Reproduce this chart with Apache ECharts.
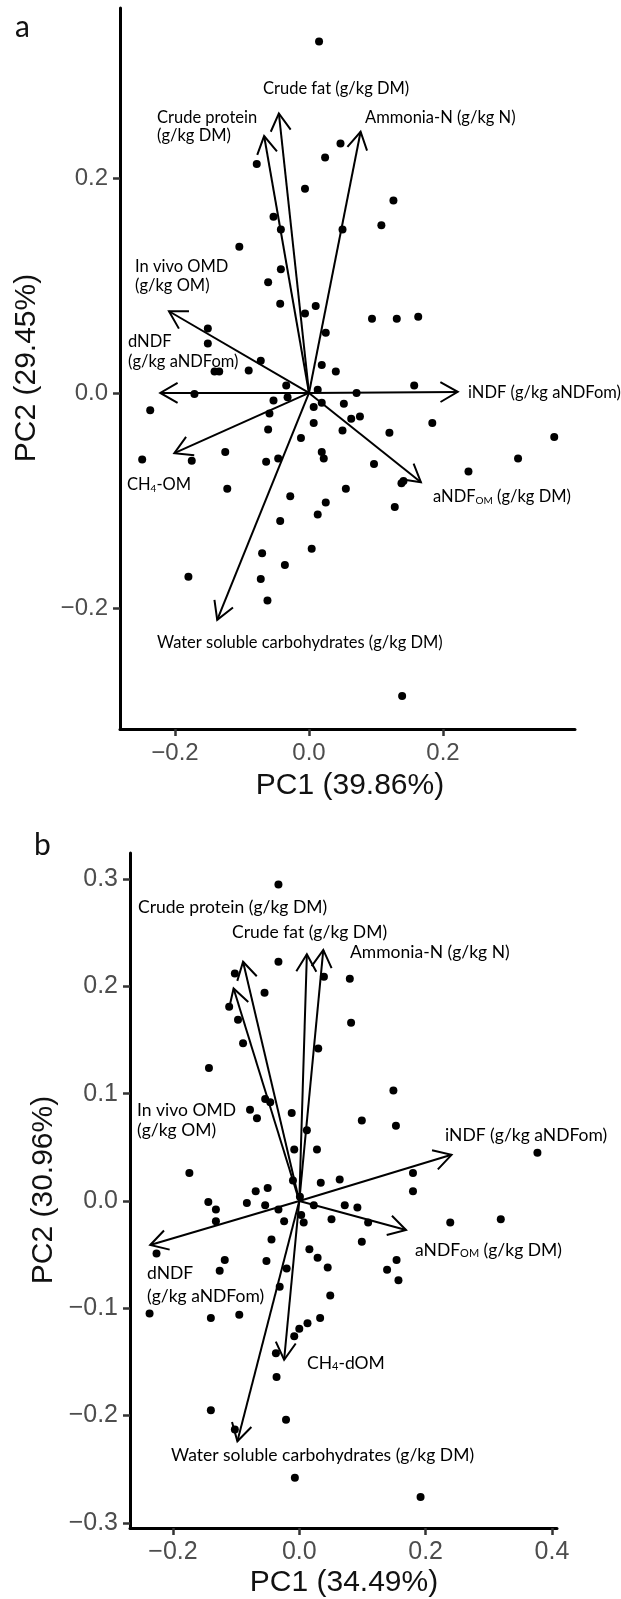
<!DOCTYPE html>
<html><head><meta charset="utf-8">
<script src="https://cdn.jsdelivr.net/npm/echarts@6/dist/echarts.min.js"></script>
<style>html,body{margin:0;padding:0;background:#fff}#c{width:621px;height:1599px}</style>
</head><body><div id="c"></div>
<script>
// ---------- Panel a data ----------
const scoresA = [
 [0.015,0.327],[-0.078,0.213],[-0.006,0.190],[-0.053,0.164],[-0.042,0.152],[-0.104,0.136],
 [-0.042,0.115],[-0.061,0.103],[-0.043,0.083],[-0.006,0.074],[0.010,0.081],[-0.151,0.060],
 [-0.151,0.046],[-0.072,0.030],[-0.141,0.020],[-0.134,0.020],[-0.090,0.021],[0.047,0.232],
 [0.024,0.219],[0.126,0.179],[0.108,0.156],[0.050,0.152],[0.094,0.069],[0.131,0.069],
 [0.163,0.071],[0.025,0.056],[0.019,0.026],[0.040,0.020],[-0.034,0.007],[-0.171,-0.001],
 [-0.053,-0.007],[-0.032,-0.004],[0.013,0.003],[0.071,0.000],[0.157,0.007],[0.007,-0.013],
 [0.019,-0.009],[0.052,-0.010],[-0.059,-0.019],[0.063,-0.024],[0.076,-0.022],[0.184,-0.028],
 [0.007,-0.028],[-0.061,-0.034],[0.050,-0.035],[0.120,-0.037],[-0.012,-0.042],[-0.125,-0.055],
 [-0.175,-0.063],[-0.064,-0.064],[-0.046,-0.061],[0.019,-0.055],[0.022,-0.061],[0.097,-0.066],
 [0.138,-0.084],[0.141,-0.082],[-0.122,-0.089],[0.055,-0.089],[-0.028,-0.096],[0.025,-0.102],
 [0.128,-0.106],[0.013,-0.113],[-0.043,-0.119],[-0.237,-0.016],[-0.249,-0.062],[-0.070,-0.149],
 [0.004,-0.145],[-0.036,-0.160],[-0.180,-0.171],[-0.072,-0.173],[-0.062,-0.193],[0.139,-0.282],
 [0.366,-0.041],[0.312,-0.061],[0.238,-0.073]
];
const variablesA = ['Crude fat','Crude protein','Ammonia-N','In vivo OMD','dNDF','CH4-OM','Water soluble carbohydrates','iNDF','aNDF_OM'];
const loadingsA = [
 [-0.045,0.260],[-0.067,0.239],[0.077,0.243],[-0.209,0.076],[-0.222,0.000],
 [-0.201,-0.056],[-0.137,-0.211],[0.222,0.001],[0.167,-0.083]
];
const xTicksA = [-0.2, 0.0, 0.2];
const yTicksA = [-0.2, 0.0, 0.2];
const xRangeA = [-0.2821, 0.3970];
const yRangeA = [-0.3126, 0.3581];

// ---------- Panel b data ----------
const scoresB = [
 [-0.033,0.295],[-0.033,0.223],[-0.102,0.212],[-0.055,0.194],[-0.111,0.181],[-0.097,0.169],
 [-0.089,0.147],[-0.143,0.124],[-0.054,0.095],[-0.046,0.092],[-0.078,0.085],[-0.067,0.077],
 [-0.012,0.082],[0.012,0.066],[-0.008,0.048],[0.028,0.048],[0.030,0.142],[0.039,0.209],
 [0.080,0.207],[0.082,0.166],[0.149,0.103],[0.099,0.075],[0.153,0.070],[0.377,0.045],
 [-0.174,0.026],[-0.010,0.019],[-0.050,0.012],[-0.069,0.009],[0.034,0.017],[0.064,0.020],
 [0.180,0.026],[0.180,0.009],[0.001,0.004],[-0.144,-0.001],[-0.132,-0.008],[-0.132,-0.019],
 [-0.083,-0.002],[-0.054,-0.004],[-0.033,-0.008],[0.023,-0.004],[0.072,-0.004],[0.092,-0.006],
 [0.003,-0.013],[0.007,-0.020],[-0.024,-0.019],[0.051,-0.017],[0.109,-0.020],[-0.044,-0.036],
 [0.099,-0.038],[0.016,-0.045],[0.029,-0.053],[0.045,-0.062],[-0.226,-0.049],[-0.118,-0.055],
 [-0.126,-0.065],[-0.052,-0.056],[-0.020,-0.063],[0.154,-0.055],[0.139,-0.064],[0.157,-0.074],
 [-0.031,-0.080],[0.049,-0.088],[-0.237,-0.105],[-0.140,-0.109],[-0.095,-0.106],[0.033,-0.109],
 [0.013,-0.114],[0.000,-0.119],[-0.008,-0.126],[-0.037,-0.142],[-0.036,-0.164],[-0.140,-0.195],
 [-0.021,-0.204],[-0.102,-0.213],[-0.007,-0.258],[0.239,-0.020],[0.319,-0.017],[0.192,-0.276]
];
const variablesB = ['Crude protein','In vivo OMD','Crude fat','Ammonia-N','iNDF','aNDF_OM','dNDF','CH4-dOM','Water soluble carbohydrates'];
const loadingsB = [
 [-0.089,0.223],[-0.104,0.198],[0.038,0.234],[0.012,0.230],[0.241,0.043],
 [0.169,-0.027],[-0.236,-0.041],[-0.024,-0.148],[-0.098,-0.224]
];
const xTicksB = [-0.2, 0.0, 0.2, 0.4];
const yTicksB = [-0.3, -0.2, -0.1, 0.0, 0.1, 0.2, 0.3];
const xRangeB = [-0.268, 0.408];
const yRangeB = [-0.3048, 0.3243];

const axisTitles = {aX:'PC1 (39.86%)', aY:'PC2 (29.45%)', bX:'PC1 (34.49%)', bY:'PC2 (30.96%)'};
</script>
<script>
// ---------- layout & style ----------
const LBL = 'Lato, "Open Sans", sans-serif';
const AX = '"Liberation Sans", Arial, sans-serif';
const fmt = v => (v < 0 ? '\u2212' : '') + Math.abs(v).toFixed(1);

function makeAxis(grid, range, ticks, fs){
  return {gridIndex:grid, type:'value', min:range[0], max:range[1],
    splitLine:{show:false},
    axisLine:{onZero:false, lineStyle:{color:'#000', width:3}},
    axisTick:{customValues:ticks, length:7, lineStyle:{color:'#333', width:2.5}},
    axisLabel:{customValues:ticks, formatter:fmt, fontSize:fs, color:'#4d4d4d', fontFamily:AX, margin:12}};
}
function arrowItem(params, api){
  const o = api.coord([0,0]);
  const t = api.coord([api.value(0), api.value(1)]);
  const ang = Math.atan2(t[1]-o[1], t[0]-o[0]);
  const L = 20, a = Math.PI/6;
  const p1 = [t[0]-L*Math.cos(ang-a), t[1]-L*Math.sin(ang-a)];
  const p2 = [t[0]-L*Math.cos(ang+a), t[1]-L*Math.sin(ang+a)];
  return {type:'group', children:[
    {type:'line', shape:{x1:o[0],y1:o[1],x2:t[0],y2:t[1]}, style:{stroke:'#000', lineWidth:2}},
    {type:'polyline', shape:{points:[p1,t,p2]}, style:{stroke:'#000', lineWidth:2, fill:null}}
  ]};
}
function richFor(fs){
  return {n:{fontSize:fs, fontFamily:LBL, color:'#1a1a1a'},
          s:{fontSize:Math.round(fs*0.62), fontFamily:LBL, color:'#1a1a1a', verticalAlign:'bottom', lineHeight:5}};
}
// arrow-label placements (pixels: left x, line centres y)
const labelsA = [
 {lines:['{n|Crude fat (g/kg DM)}'], x:263, y:[89]},
 {lines:['{n|Crude protein}','{n|(g/kg DM)}'], x:157, y:[118,136]},
 {lines:['{n|Ammonia-N (g/kg N)}'], x:365, y:[118]},
 {lines:['{n|In vivo OMD}','{n|(g/kg OM)}'], x:135, y:[267,286]},
 {lines:['{n|dNDF}','{n|(g/kg aNDFom)}'], x:128, y:[342,362]},
 {lines:['{n|CH}{s|4}{n|-OM}'], x:127, y:[485]},
 {lines:['{n|Water soluble carbohydrates (g/kg DM)}'], x:157, y:[643]},
 {lines:['{n|iNDF (g/kg aNDFom)}'], x:468, y:[393]},
 {lines:['{n|aNDF}{s|OM}{n| (g/kg DM)}'], x:433, y:[497]}
];
const labelsB = [
 {lines:['{n|Crude protein (g/kg DM)}'], x:138, y:[907]},
 {lines:['{n|Crude fat (g/kg DM)}'], x:232, y:[932]},
 {lines:['{n|Ammonia-N (g/kg N)}'], x:350, y:[952]},
 {lines:['{n|In vivo OMD}','{n|(g/kg OM)}'], x:137, y:[1110,1130]},
 {lines:['{n|iNDF (g/kg aNDFom)}'], x:445, y:[1135]},
 {lines:['{n|aNDF}{s|OM}{n| (g/kg DM)}'], x:415, y:[1250]},
 {lines:['{n|dNDF}','{n|(g/kg aNDFom)}'], x:147, y:[1273,1296]},
 {lines:['{n|CH}{s|4}{n|-dOM}'], x:307, y:[1363]},
 {lines:['{n|Water soluble carbohydrates (g/kg DM)}'], x:171, y:[1455]}
];
const graphics = [];
function addLabels(list, fs){
  list.forEach(l => l.lines.forEach((t,i) => graphics.push({type:'text', x:l.x, y:l.y[i], z:10,
    style:{text:t, rich:richFor(fs), textAlign:'left', textVerticalAlign:'middle'}})));
}
addLabels(labelsA, 16.5);
addLabels(labelsB, 17.5);
// panel letters
graphics.push({type:'text', x:15, y:27, style:{text:'a', font:'30px Lato', fill:'#111', textAlign:'left', textVerticalAlign:'middle'}});
graphics.push({type:'text', x:34, y:845, style:{text:'b', font:'30px Lato', fill:'#111', textAlign:'left', textVerticalAlign:'middle'}});
// axis titles
const TF = '30px "Liberation Sans", Arial';
graphics.push({type:'text', x:350, y:786, style:{text:axisTitles.aX, font:TF, fill:'#111', textAlign:'center', textVerticalAlign:'middle'}});
graphics.push({type:'text', x:27, y:368, rotation:Math.PI/2, style:{text:axisTitles.aY, font:TF, fill:'#111', textAlign:'center', textVerticalAlign:'middle'}});
graphics.push({type:'text', x:344, y:1583, style:{text:axisTitles.bX, font:TF, fill:'#111', textAlign:'center', textVerticalAlign:'middle'}});
graphics.push({type:'text', x:44, y:1190, rotation:Math.PI/2, style:{text:axisTitles.bY, font:TF, fill:'#111', textAlign:'center', textVerticalAlign:'middle'}});

const chart = echarts.init(document.getElementById('c'), null, {renderer:'canvas'});
chart.setOption({
  animation:false,
  backgroundColor:'#fff',
  grid:[
    {left:120, top:8, width:455, height:721},
    {left:130, top:853, width:427, height:675}
  ],
  xAxis:[makeAxis(0, xRangeA, xTicksA, 24), makeAxis(1, xRangeB, xTicksB, 25)],
  yAxis:[makeAxis(0, yRangeA, yTicksA, 24), makeAxis(1, yRangeB, yTicksB, 25)],
  series:[
    {type:'scatter', xAxisIndex:0, yAxisIndex:0, data:scoresA, symbolSize:8, itemStyle:{color:'#000', opacity:1}},
    {type:'custom', xAxisIndex:0, yAxisIndex:0, data:loadingsA, renderItem:arrowItem, encode:{x:0,y:1}, z:3},
    {type:'scatter', xAxisIndex:1, yAxisIndex:1, data:scoresB, symbolSize:8, itemStyle:{color:'#000', opacity:1}},
    {type:'custom', xAxisIndex:1, yAxisIndex:1, data:loadingsB, renderItem:arrowItem, encode:{x:0,y:1}, z:3}
  ],
  graphic:graphics
});
</script>
</body></html>
